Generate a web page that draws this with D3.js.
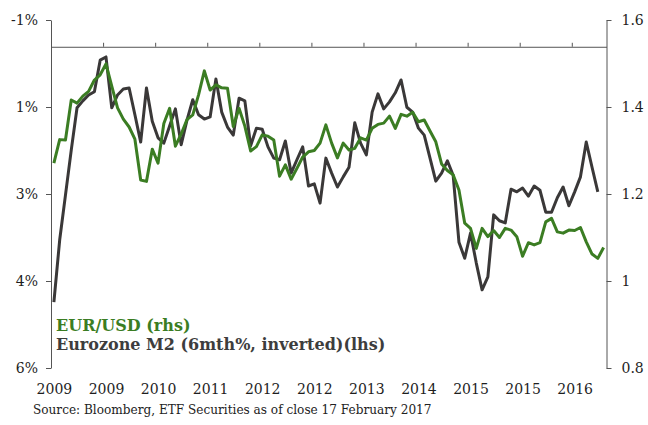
<!DOCTYPE html>
<html>
<head>
<meta charset="utf-8">
<script src="https://cdn.jsdelivr.net/npm/d3@7"></script>
<style>
  body { margin: 0; background: #fff; }
  svg { display: block; }
  .axis text { font-family: "DejaVu Serif", serif; font-size: 14px; fill: #1e1e1e; }
  .axis path, .axis line { stroke: #555; stroke-width: 1; }
</style>
</head>
<body>
<script>
// monthly categories, Jan 2009 - Dec 2016
var months = d3.timeMonth.range(new Date(2009, 0, 1), new Date(2017, 0, 1));

// Eurozone M2, 6mth % (plotted inverted, lhs)
var m2 = [4.77, 3.61, 2.77, 1.93, 1.14, 1.01, 0.90, 0.84, 0.25, 0.19,
          1.14, 0.90, 0.79, 0.77, 1.27, 1.78, 0.77, 1.39, 1.70, 1.80,
          1.48, 1.16, 1.83, 1.37, 0.99, 1.27, 1.35, 1.31, 0.60, 1.22,
          1.50, 1.65, 0.96, 1.01, 1.85, 1.52, 1.54, 1.87, 2.08, 2.11,
          1.76, 2.36, 2.11, 1.87, 2.60, 2.56, 2.92, 2.08, 2.36, 2.62,
          2.43, 2.25, 1.42, 1.80, 2.02, 1.22, 0.88, 1.16, 1.03, 0.86,
          0.62, 1.13, 1.22, 1.52, 1.65, 2.08, 2.51, 2.36, 2.13, 2.40,
          3.65, 3.95, 3.48, 4.04, 4.54, 4.30, 3.14, 3.25, 3.29, 2.66,
          2.71, 2.64, 2.79, 2.60, 2.68, 3.09, 3.09, 2.82, 2.62, 2.97,
          2.71, 2.43, 1.78, 2.25, 2.71];

// EUR/USD (rhs)
var eurusd = [1.271, 1.325, 1.324, 1.416, 1.409, 1.425, 1.436, 1.462, 1.474, 1.499,
              1.448, 1.398, 1.372, 1.354, 1.326, 1.232, 1.229, 1.303, 1.271, 1.362,
              1.397, 1.310, 1.338, 1.371, 1.382, 1.428, 1.483, 1.439, 1.451, 1.444,
              1.443, 1.355, 1.397, 1.356, 1.299, 1.309, 1.336, 1.333, 1.324, 1.241,
              1.267, 1.234, 1.259, 1.285, 1.297, 1.300, 1.317, 1.359, 1.317, 1.283,
              1.317, 1.301, 1.305, 1.329, 1.324, 1.351, 1.360, 1.363, 1.379, 1.351,
              1.383, 1.379, 1.388, 1.366, 1.370, 1.345, 1.320, 1.269, 1.254, 1.244,
              1.209, 1.133, 1.121, 1.075, 1.121, 1.102, 1.116, 1.100, 1.121, 1.117,
              1.102, 1.057, 1.088, 1.083, 1.088, 1.136, 1.144, 1.113, 1.110, 1.117,
              1.116, 1.123, 1.090, 1.062, 1.052, 1.077];

var leftTicks = [-0.5, 1.125, 2.75, 4.375, 6];
var rightTicks = [0.8, 1, 1.2, 1.4, 1.6];
var labelEvery = 9;

var legendItems = ["EUR/USD (rhs)", "Eurozone M2 (6mth%, inverted)(lhs)"];
var sourceText = "Source: Bloomberg, ETF Securities as of close 17 February 2017";

var W = 648, H = 425;
var plotL = 51, plotR = 606.5, plotT = 20, plotB = 368;
var green = "#3b7d23", dark = "#3a3838";

var svg = d3.select("body").append("svg")
  .attr("width", W)
  .attr("height", H);

var x = d3.scaleLinear().domain([0, months.length]).range([plotL, plotR]);
var yL = d3.scaleLinear().domain([-0.5, 6]).range([plotT, plotB]);
var yR = d3.scaleLinear().domain([0.8, 1.6]).range([plotB, plotT]);

var tickIdx = d3.range(0, months.length, labelEvery);

function pct(v) {
  var r = Math.sign(v) * Math.round(Math.abs(v));
  return r + "%";
}

// left axis
svg.append("g").attr("class", "axis")
  .attr("transform", "translate(" + plotL + ",0)")
  .call(d3.axisLeft(yL).tickValues(leftTicks).tickSize(5).tickSizeOuter(0).tickPadding(8).tickFormat(pct));

// right axis
svg.append("g").attr("class", "axis")
  .attr("transform", "translate(" + plotR + ",0)")
  .call(d3.axisRight(yR).tickValues(rightTicks).tickSize(5).tickSizeOuter(0).tickPadding(10).tickFormat(function(d){ return String(d); }));

// category axis crosses at 0 on lhs
svg.append("g").attr("class", "axis")
  .attr("transform", "translate(0," + yL(0) + ")")
  .call(d3.axisTop(x).tickValues(tickIdx).tickSize(4).tickSizeOuter(0).tickFormat(""));

// year labels at the bottom
var gx = svg.append("g").attr("class", "axis")
  .attr("transform", "translate(0," + plotB + ")")
  .call(d3.axisBottom(x)
    .tickValues(tickIdx.map(function(i){ return i + 0.5; }))
    .tickSize(0).tickPadding(16)
    .tickFormat(function(d){ return months[d - 0.5].getFullYear(); }));
gx.select(".domain").remove();

// lines
var lineL = d3.line()
  .x(function(d, i){ return x(i + 0.5); })
  .y(function(d){ return yL(d); });
var lineR = d3.line()
  .x(function(d, i){ return x(i + 0.5); })
  .y(function(d){ return yR(d); });

svg.append("path")
  .attr("d", lineL(m2))
  .attr("fill", "none")
  .attr("stroke", dark)
  .attr("stroke-width", 3)
  .attr("stroke-linejoin", "round");

svg.append("path")
  .attr("d", lineR(eurusd))
  .attr("fill", "none")
  .attr("stroke", green)
  .attr("stroke-width", 3)
  .attr("stroke-linejoin", "round");

// legend
svg.selectAll("text.legend")
  .data(legendItems)
  .enter()
  .append("text")
  .attr("class", "legend")
  .attr("x", 56)
  .attr("y", function(d, i){ return 331 + i * 19; })
  .attr("fill", function(d, i){ return i === 0 ? green : "#3d3d3d"; })
  .style("font-family", "'DejaVu Serif', serif")
  .style("font-weight", "bold")
  .style("font-size", "16px")
  .text(function(d){ return d; });

// source
svg.append("text")
  .attr("x", 33)
  .attr("y", 414)
  .attr("fill", "#222")
  .style("font-family", "'DejaVu Serif', serif")
  .style("font-size", "12.1px")
  .text(sourceText);
</script>
</body>
</html>
